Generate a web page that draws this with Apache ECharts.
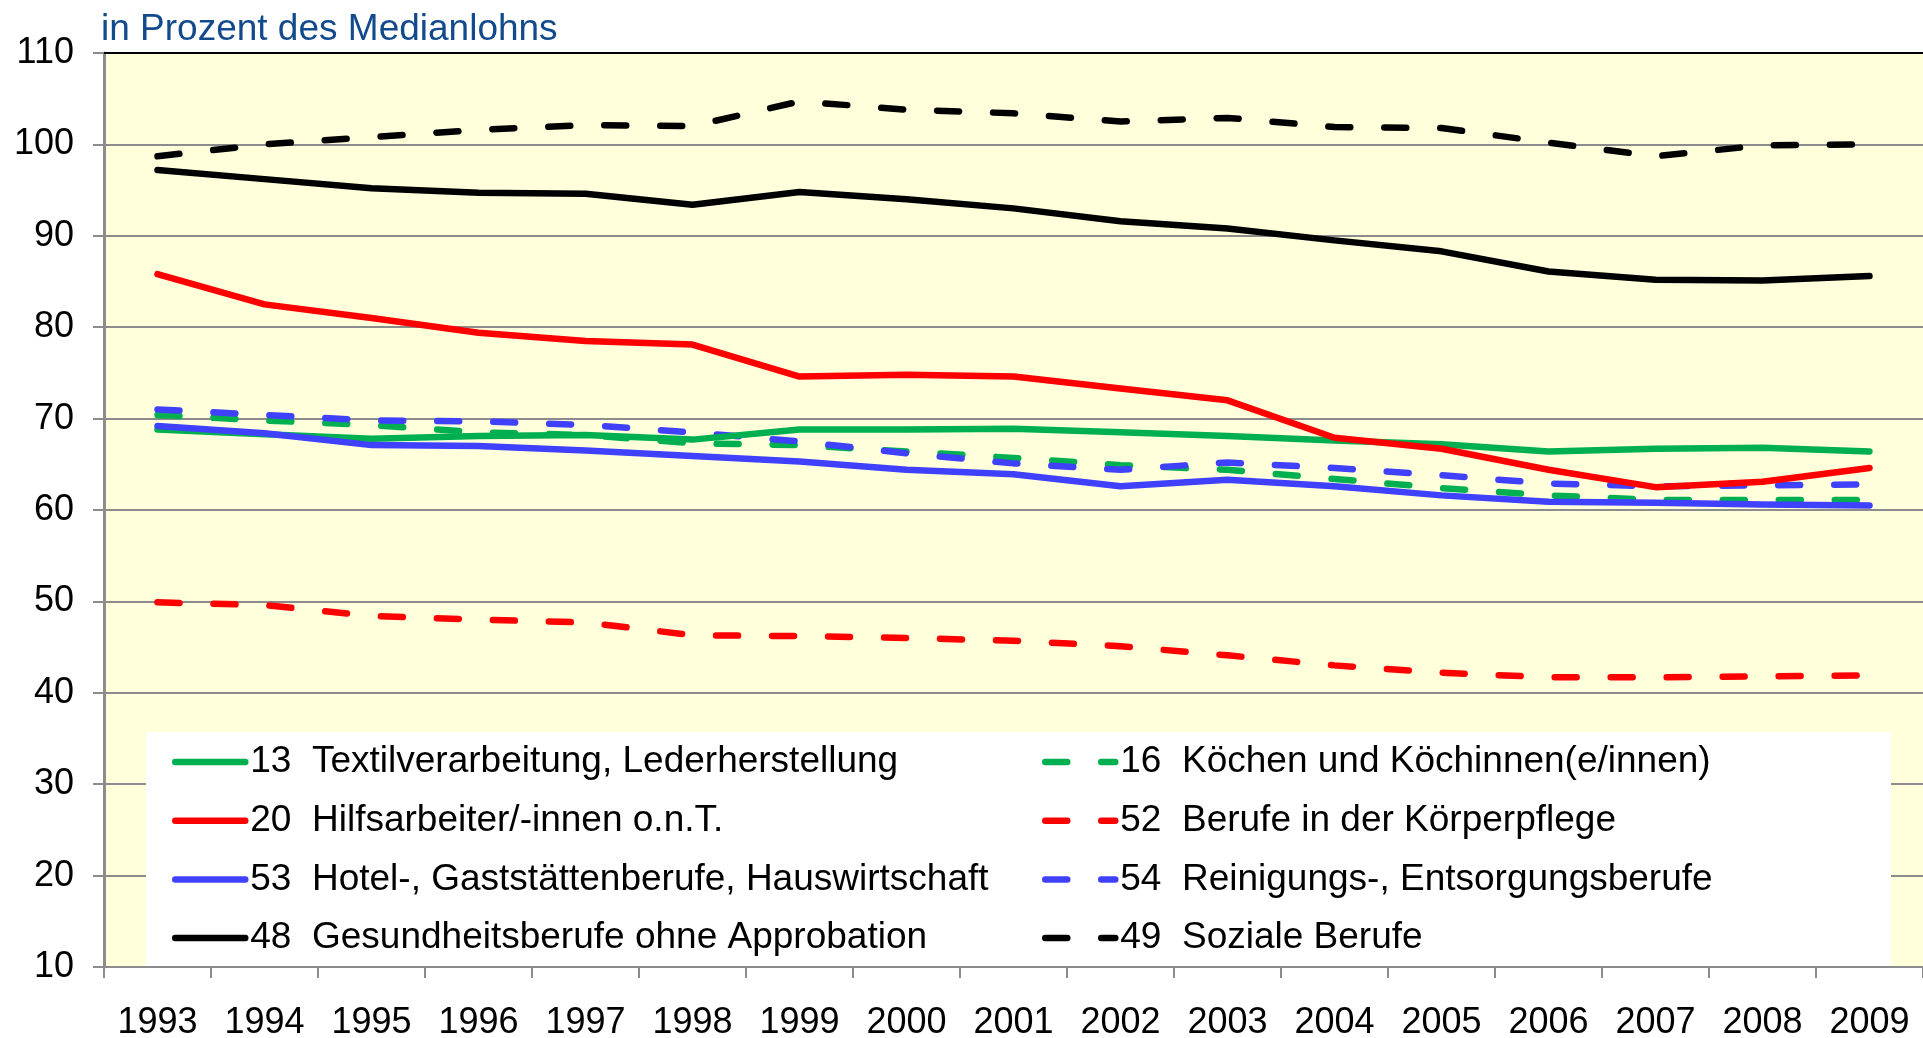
<!DOCTYPE html>
<html>
<head>
<meta charset="utf-8">
<script src="https://cdn.jsdelivr.net/npm/echarts@6/dist/echarts.min.js"></script>
<style>
html,body{margin:0;padding:0;background:#fff;}
#chart{width:1923px;height:1038px;}
</style>
</head>
<body>
<div id="chart"></div>
<script>
const years = ['1993','1994','1995','1996','1997','1998','1999','2000','2001','2002','2003','2004','2005','2006','2007','2008','2009'];
const yTicks = [10,20,30,40,50,60,70,80,90,100,110];
const titleText = 'in Prozent des Medianlohns';

const name13 = '13  Textilverarbeitung, Lederherstellung';
const name16 = '16  Köchen und Köchinnen(e/innen)';
const name20 = '20  Hilfsarbeiter/-innen o.n.T.';
const name52 = '52  Berufe in der Körperpflege';
const name53 = '53  Hotel-, Gaststättenberufe, Hauswirtschaft';
const name54 = '54  Reinigungs-, Entsorgungsberufe';
const name48 = '48  Gesundheitsberufe ohne Approbation';
const name49 = '49  Soziale Berufe';

const v13 = [68.8,68.3,67.8,68.1,68.2,67.7,68.8,68.8,68.9,68.5,68.1,67.6,67.2,66.4,66.7,66.8,66.4];
const v16 = [70.4,69.8,69.3,68.5,68.2,67.3,67.1,66.4,65.7,64.9,64.4,63.4,62.4,61.6,61.1,61.1,61.1];
const v20 = [85.8,82.5,81.0,79.4,78.5,78.1,74.6,74.8,74.6,73.3,72.0,67.9,66.7,64.4,62.5,63.1,64.6];
const v52 = [49.9,49.6,48.4,48.0,47.7,46.3,46.2,46.0,45.7,45.1,44.1,43.0,42.2,41.7,41.7,41.8,41.9];
const v53 = [69.2,68.4,67.1,67.0,66.5,65.9,65.3,64.4,63.9,62.6,63.3,62.6,61.6,60.9,60.8,60.6,60.5];
const v54 = [71.0,70.4,69.8,69.7,69.3,68.5,67.5,66.2,65.1,64.4,65.2,64.6,63.8,62.9,62.6,62.7,62.8];
const v48 = [97.2,96.2,95.2,94.7,94.6,93.4,94.8,94.0,93.0,91.6,90.8,89.5,88.3,86.1,85.2,85.1,85.6];
const v49 = [98.7,100.0,100.8,101.6,102.1,102.0,104.7,103.8,103.4,102.5,102.9,101.9,101.8,100.2,98.7,99.9,100.0];

const GREEN = '#00B050', RED = '#FF0000', BLUE = '#4040FF', BLACK = '#000000';
const FONT = '"Liberation Sans", Arial, sans-serif';
const DASH = [22, 34];

function mk(name, data, color, dashed) {
  return {
    name: name, type: 'line', data: data, symbol: 'none', smooth: false,
    z: 5,
    lineStyle: { color: color, width: 6.5, type: dashed ? DASH : 'solid', cap: 'round', join: 'round' },
    itemStyle: { color: color }
  };
}

const chart = echarts.init(document.getElementById('chart'));
const legendCommon = {
  orient: 'vertical', itemWidth: 70, itemHeight: 14, itemGap: 18.7, padding: 0, z: 20,
  textStyle: { fontFamily: FONT, fontSize: 37, color: '#000', lineHeight: 40 },
  itemStyle: { opacity: 0 },
  lineStyle: { width: 6.5, cap: 'round' },
  selectedMode: false
};
chart.setOption({
  animation: false,
  backgroundColor: '#ffffff',
  title: {
    text: titleText, left: 101, top: 11, padding: 0,
    textStyle: { fontFamily: FONT, fontSize: 37, fontWeight: 'normal', color: '#124A8C' }
  },
  grid: {
    left: 104, top: 53, right: 0, bottom: 71, show: true, backgroundColor: '#FFFFDC', borderWidth: 0,
    containLabel: false, outerBoundsMode: 'none'
  },
  xAxis: [{
    type: 'category', data: years, boundaryGap: true, position: 'bottom',
    axisLine: { lineStyle: { color: '#8C8C8C', width: 2 } },
    axisTick: { show: true, length: 11, lineStyle: { color: '#8C8C8C', width: 2 } },
    axisLabel: { fontFamily: FONT, fontSize: 36, color: '#000', margin: 38 },
    splitLine: { show: false }
  }, {
    type: 'category', data: years, position: 'top',
    axisLine: { lineStyle: { color: '#000', width: 2 } },
    axisTick: { show: false }, axisLabel: { show: false }, splitLine: { show: false }
  }],
  yAxis: {
    type: 'value', min: yTicks[0], max: yTicks[yTicks.length - 1], interval: 10,
    axisLine: { show: true, lineStyle: { color: '#8C8C8C', width: 3 } },
    axisTick: { show: true, length: 11, lineStyle: { color: '#8C8C8C', width: 2 } },
    axisLabel: { fontFamily: FONT, fontSize: 36, color: '#000', margin: 30 },
    splitLine: { show: true, lineStyle: { color: '#8C8C8C', width: 2 } }
  },
  graphic: [{
    type: 'rect', z: 10, shape: { x: 146, y: 732, width: 1745, height: 234 },
    style: { fill: '#ffffff' }
  }],
  legend: [
    Object.assign({}, legendCommon, { left: 172, top: 742, data: [name13, name20, name53, name48] }),
    Object.assign({}, legendCommon, { left: 1042, top: 742, data: [name16, name52, name54, name49] })
  ],
  series: [
    mk(name52, v52, RED, true),
    mk(name16, v16, GREEN, true),
    mk(name54, v54, BLUE, true),
    mk(name13, v13, GREEN, false),
    mk(name53, v53, BLUE, false),
    mk(name20, v20, RED, false),
    mk(name48, v48, BLACK, false),
    mk(name49, v49, BLACK, true)
  ]
});
</script>
</body>
</html>
